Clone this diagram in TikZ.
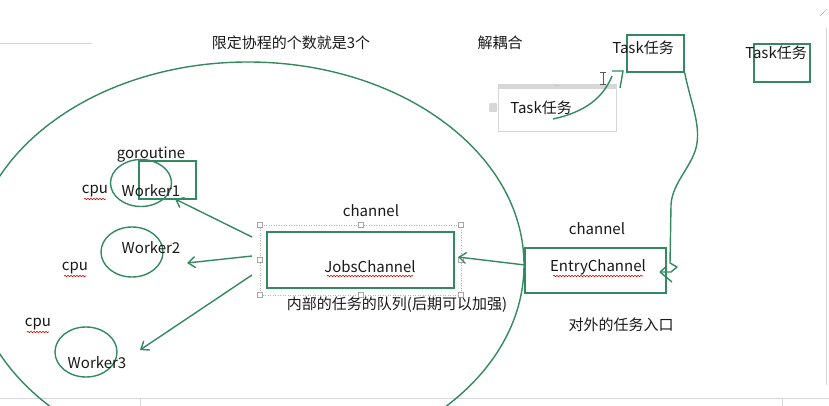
\documentclass[tikz,border=0pt]{standalone}
\usepackage{fontspec}
\setmainfont{Noto Sans CJK SC}
\usetikzlibrary{arrows.meta,shapes.geometric,decorations.pathmorphing}
\definecolor{gline}{RGB}{52,138,96}
\definecolor{uigray}{RGB}{215,215,215}
\tikzset{
  every node/.style={font=\fontsize{15}{18}\selectfont, inner sep=0pt, text=black!90},
  gl/.style={draw=gline, line width=1.4pt},
  arr/.style={draw=gline, line width=1.4pt, -{Straight Barb[length=7pt,width=11pt,line width=1.4pt]}},
  wk/.style={ellipse, draw=gline, line width=1.4pt, minimum width=62pt, minimum height=50pt},
  rbox/.style={rectangle, draw=gline, line width=1.4pt},
  squig/.style={draw=red!80!black, line width=0.6pt, decorate, decoration={snake, amplitude=0.7pt, segment length=3pt}},
  handle/.style={rectangle, draw=gray!70, fill=white, line width=0.5pt, minimum size=5pt},
}
\begin{document}
\begin{tikzpicture}[x=1pt,y=-1pt]
\useasboundingbox (0,0) rectangle (829,406);
\fill[white] (0,0) rectangle (829,406);
% UI artifacts
\draw[uigray, line width=0.8pt] (0,43) -- (92,43);
\draw[uigray, line width=0.8pt] (0,398) -- (829,398);
\draw[uigray, line width=0.8pt] (140,398) -- (140,406);
\draw[uigray, line width=0.8pt] (782,398) -- (782,406);
\draw[uigray, line width=0.8pt] (826,28) -- (826,385);
\draw[gray!60, line width=0.6pt] (820,16) -- (827,9);
% big ellipse
\draw[gl] (248,265) ellipse (276 and 203);
% titles
\node (title) at (291,43) {限定协程的个数就是3个};
\node (decouple) at (500,43) {解耦合};
% top task boxes
\node[rbox, minimum width=57pt, minimum height=37pt] (taskA) at (655.5,53.5) {};
\node (taskAt) at (643,48) {Task任务};
\node[rbox, minimum width=56pt, minimum height=38pt] (taskB) at (782,63) {};
\node (taskBt) at (776,53) {Task任务};
% gray panel
\node[rectangle, draw=uigray, line width=0.6pt, minimum width=118pt, minimum height=47pt] (panel) at (557,107.5) {};
\fill[uigray] (498,84) rectangle (616,89);
\node[font=\fontsize{5}{5}\selectfont, text=gray] (dots) at (557,86) {....};
\fill[uigray, rounded corners=1pt] (489,103) rectangle (497,112);
\node (taskCt) at (541,108) {Task任务};
\draw[gl] (553,119) .. controls (585,112) and (603,98) .. (612,76);
\draw[gl] (612,71) -- (623,71) -- (620,88);
\draw[gray!70!black, line width=0.7pt] (603,72) -- (603,84) (600,72) -- (606,72) (600,84) -- (606,84);
% entry channel
\node[rbox, minimum width=141pt, minimum height=45pt] (entry) at (595.5,270.5) {};
\node (entryt) at (598,267) {EntryChannel};
\draw[squig] (553,276) -- (643,276);
\node (chan2) at (597,229) {channel};
\node (outer) at (621,325) {对外的任务入口};
\coordinate (tip) at (660,272);
\draw[gl, line join=round] (taskA.south east) .. controls (690,100) and (700,122) .. (697,143)
   .. controls (694,165) and (672,182) .. (671,205) -- (670,263) -- (677,267) -- (671,272) -- (tip);
\draw[gl] (tip) -- (667,266) (tip) -- (672,282);
% jobs channel
\draw[gray!60, line width=0.5pt, dash pattern=on 1pt off 1.5pt] (260,225) rectangle (461,295);
\node[rbox, minimum width=187pt, minimum height=56pt, line width=1.8pt] (jobs) at (360.5,260) {};
\foreach \p/\q [count=\i] in {260/225,360.5/225,461/225,260/260,461/260,260/295,360.5/295,461/295}
  \node[handle] (h\i) at (\p,\q) {};
\node (jobst) at (370,267) {JobsChannel};
\draw[squig] (327,276) -- (413,276);
\node (chan1) at (371,211) {channel};
\node (inner) at (397,305) {内部的任务的队列(后期可以加强)};
\coordinate (entryL) at (525,265);
\coordinate (jobsR) at (458,257);
\draw[arr] (entryL) -- (jobsR);
% workers
\node[wk, minimum width=61pt, minimum height=47pt] (w1) at (141,183) {};
\node[rbox, minimum width=57pt, minimum height=38pt] (g1) at (167.5,180) {};
\node (w1t) at (151,191) {Worker1};
\node (gor) at (151,155) {goroutine};
\node (cpu1) at (95,191) {cpu};
\draw[squig] (84,199) -- (106,199);
\node[wk] (w2) at (132,252) {};
\node (w2t) at (151,248) {Worker2};
\node (cpu2) at (75,268) {cpu};
\draw[squig] (64,276) -- (86,276);
\node[wk] (w3) at (86,352) {};
\node (w3t) at (97,363) {Worker3};
\node (cpu3) at (38,324) {cpu};
\draw[squig] (27,332) -- (49,332);
\coordinate (j1) at (252,237);
\coordinate (j2) at (252,256);
\coordinate (j3) at (252,275);
\coordinate (e1) at (175,199);
\coordinate (e2) at (187,263);
\coordinate (e3) at (140,350);
\draw[arr] (j1) -- (e1);
\draw[arr] (j2) -- (e2);
\draw[arr] (j3) -- (e3);
\end{tikzpicture}
\end{document}
